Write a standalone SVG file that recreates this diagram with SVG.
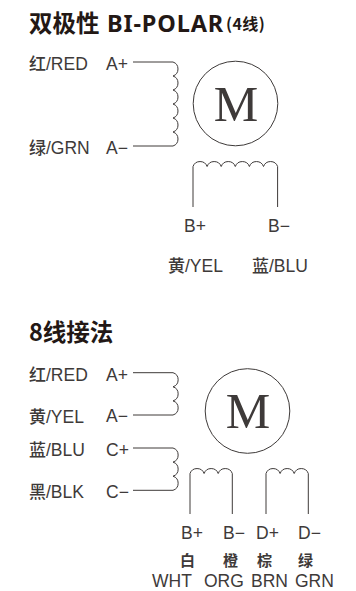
<svg xmlns="http://www.w3.org/2000/svg" width="356" height="591" viewBox="0 0 356 591">
<style>
text{font-family:"Liberation Sans","Noto Sans CJK SC",sans-serif;fill:#3e3a39;font-size:17.5px}
.t{font-family:"Noto Sans CJK SC",sans-serif;font-weight:700;fill:#231815;font-size:23.500px}
.l{font-family:"Noto Sans",sans-serif;font-weight:700;fill:#231815;font-size:23.500px;letter-spacing:.85px}
.s{font-family:"Noto Sans CJK SC",sans-serif;font-weight:700;fill:#231815;font-size:16px;letter-spacing:.4px}
.c{font-family:"Noto Sans CJK SC",sans-serif;font-size:17px;font-weight:500}
.b{font-family:"Noto Sans CJK SC",sans-serif;font-weight:700;font-size:15px}
.m{font-family:"Liberation Serif",serif;font-size:50px;text-anchor:middle}
.w{fill:none;stroke:#3e3a39;stroke-width:1}
</style>
<rect width="356" height="591" fill="#fff"/>
<g id="title-1"><text class="t" x="29" y="32">双极性</text><text class="l" x="107" y="32">BI-POLAR</text><text class="s" x="226" y="30">(4线)</text></g>
<g id="motor-1"><circle class="w" cx="235.500" cy="103.500" r="42.300"/><text class="m" x="236" y="120.500">M</text></g>
<g id="labels-1">
<text x="29" y="70"><tspan class="c">红</tspan>/RED</text><text x="106" y="70">A+</text>
<text x="29" y="154"><tspan class="c">绿</tspan>/GRN</text><text x="106" y="154">A−</text>
<text x="184" y="232">B+</text><text x="268" y="232">B−</text>
<text x="168" y="272"><tspan class="c">黄</tspan>/YEL</text><text x="252" y="272"><tspan class="c">蓝</tspan>/BLU</text>
</g>
<g id="connectors">
<path class="w" d="M133 62H173a7.400 7.400 0 0 1 0 14a7.400 7.400 0 0 1 0 14a7.400 7.400 0 0 1 0 14a7.400 7.400 0 0 1 0 14a7.400 7.400 0 0 1 0 14a7.400 7.400 0 0 1 0 14H133"/>
<path class="w" d="M193 207V166.500a7.500 7.500 0 0 1 14.100 0a7.500 7.500 0 0 1 14.100 0a7.500 7.500 0 0 1 14.100 0a7.500 7.500 0 0 1 14.100 0a7.500 7.500 0 0 1 14.100 0a7.500 7.500 0 0 1 14.100 0V207"/>
<path class="w" d="M133 372.700H173a7.400 7.400 0 0 1 0 14.100a7.400 7.400 0 0 1 0 14.100a7.400 7.400 0 0 1 0 14.100H133"/>
<path class="w" d="M133 448H173a7.400 7.400 0 0 1 0 14.100a7.400 7.400 0 0 1 0 14.100a7.400 7.400 0 0 1 0 14.100H133"/>
<path class="w" d="M190 514V473.500a7.500 7.500 0 0 1 14.100 0a7.500 7.500 0 0 1 14.100 0a7.500 7.500 0 0 1 14.100 0V514"/>
<path class="w" d="M266 514V473.500a7.500 7.500 0 0 1 14.100 0a7.500 7.500 0 0 1 14.100 0a7.500 7.500 0 0 1 14.100 0V514"/>
</g>
<g id="title-2"><text class="t" x="29" y="341">8线接法</text></g>
<g id="motor-2"><circle class="w" cx="247.500" cy="411" r="42.300"/><text class="m" x="248" y="428">M</text></g>
<g id="labels-2">
<text x="29" y="381"><tspan class="c">红</tspan>/RED</text><text x="106" y="381">A+</text>
<text x="29" y="423"><tspan class="c">黄</tspan>/YEL</text><text x="106" y="422">A−</text>
<text x="29" y="456"><tspan class="c">蓝</tspan>/BLU</text><text x="106" y="456">C+</text>
<text x="29" y="498"><tspan class="c">黑</tspan>/BLK</text><text x="106" y="498">C−</text>
<text x="181" y="539">B+</text><text x="223" y="539">B−</text><text x="256" y="539">D+</text><text x="298" y="539">D−</text>
<text class="b" x="180" y="566">白</text><text class="b" x="223" y="566">橙</text><text class="b" x="257" y="566">棕</text><text class="b" x="298" y="566">绿</text>
<text x="152" y="587.200">WHT</text><text x="204" y="587.200">ORG</text><text x="251" y="587.200">BRN</text><text x="295" y="587.200">GRN</text>
</g>
</svg>
